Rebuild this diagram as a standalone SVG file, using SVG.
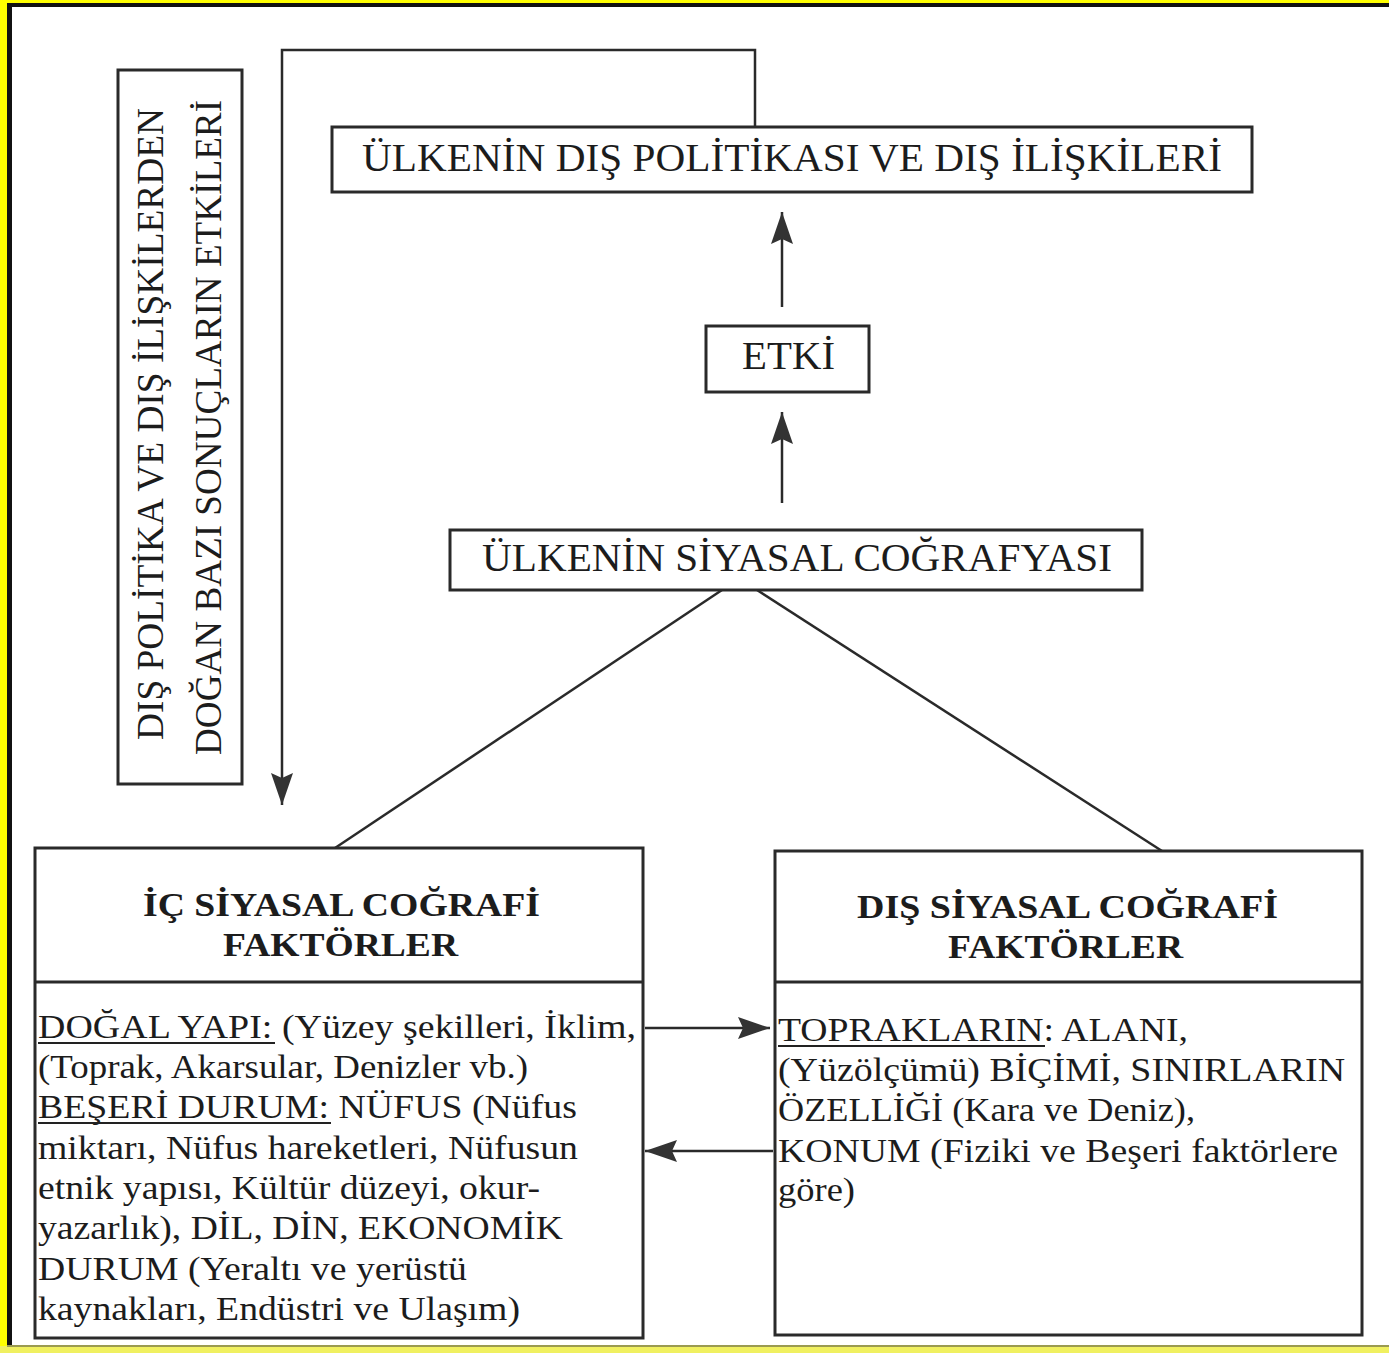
<svg xmlns="http://www.w3.org/2000/svg" width="1389" height="1353" viewBox="0 0 1389 1353">
<defs>
<style>
.box{fill:none;stroke:#2a2a2a;stroke-width:3}
.ln{fill:none;stroke:#2a2a2a;stroke-width:2.5}
.t{font-family:"Liberation Serif","Times New Roman",serif;fill:#1c1c1c}
.h{font-family:"Liberation Serif","Times New Roman",serif;fill:#1c1c1c;font-weight:bold}
.b{font-family:"Liberation Serif","Times New Roman",serif;fill:#1c1c1c;font-size:34px}
.ul{stroke:#222;stroke-width:2}
</style>
<marker id="ah" viewBox="0 0 32 22" refX="32" refY="11" markerWidth="32" markerHeight="22" markerUnits="userSpaceOnUse" orient="auto">
<path d="M0,0 L32,11 L0,22 L5,11 Z" fill="#333"/>
</marker>
</defs>
<rect x="0" y="0" width="1389" height="1353" fill="#ffffff"/>
<rect x="0" y="0" width="1389" height="3" fill="#ffff00"/>
<rect x="0" y="0" width="7" height="1353" fill="#ffff00"/>
<rect x="7" y="3" width="1382" height="4" fill="#111"/>
<rect x="7" y="3" width="5" height="1343" fill="#111"/>
<rect x="0" y="1346" width="1389" height="7" fill="#f0f060"/>
<rect x="7" y="1345" width="1382" height="2" fill="#9a9a50"/>

<g id="connectors">
<polyline class="ln" points="755,127 755,50 282,50 282,805" marker-end="url(#ah)"/>
<line class="ln" x1="782" y1="307" x2="782" y2="212" marker-end="url(#ah)"/>
<line class="ln" x1="782" y1="503" x2="782" y2="412" marker-end="url(#ah)"/>
<line class="ln" x1="722" y1="590" x2="335" y2="848"/>
<line class="ln" x1="757" y1="590" x2="1162" y2="851"/>
<line class="ln" x1="645" y1="1028" x2="770" y2="1028" marker-end="url(#ah)"/>
<line class="ln" x1="773" y1="1151" x2="645" y2="1151" marker-end="url(#ah)"/>
</g>

<g id="node-sonuclar">
<rect class="box" x="118" y="70" width="124" height="714"/>
<text class="t" font-size="37" transform="translate(163,740) rotate(-90)" textLength="632" lengthAdjust="spacingAndGlyphs">DIŞ POLİTİKA VE DIŞ İLİŞKİLERDEN</text>
<text class="t" font-size="37" transform="translate(221,755) rotate(-90)" textLength="655" lengthAdjust="spacingAndGlyphs">DOĞAN BAZI SONUÇLARIN ETKİLERİ</text>
</g>

<g id="node-dis-politika">
<rect class="box" x="332" y="127" width="920" height="65"/>
<text class="t" font-size="39" x="362" y="171" textLength="860" lengthAdjust="spacingAndGlyphs">ÜLKENİN DIŞ POLİTİKASI VE DIŞ İLİŞKİLERİ</text>
</g>

<g id="node-etki">
<rect class="box" x="706" y="326" width="163" height="66"/>
<text class="t" font-size="39" x="742" y="369" textLength="93" lengthAdjust="spacingAndGlyphs">ETKİ</text>
</g>

<g id="node-siyasal-cografya">
<rect class="box" x="450" y="530" width="692" height="60"/>
<text class="t" font-size="41" x="482" y="571" textLength="630" lengthAdjust="spacingAndGlyphs">ÜLKENİN SİYASAL COĞRAFYASI</text>
</g>

<g id="node-ic">
<rect class="box" x="35" y="848" width="608" height="490"/>
<line class="box" x1="35" y1="982" x2="643" y2="982"/>
<text class="h" font-size="33" x="143" y="916" textLength="397" lengthAdjust="spacingAndGlyphs">İÇ SİYASAL COĞRAFİ</text>
<text class="h" font-size="33" x="223" y="956" textLength="235" lengthAdjust="spacingAndGlyphs">FAKTÖRLER</text>
<text class="b" x="38" y="1038" textLength="598" lengthAdjust="spacingAndGlyphs">DOĞAL YAPI: (Yüzey şekilleri, İklim,</text>
<line class="ul" x1="38" y1="1043" x2="275" y2="1043"/>
<text class="b" x="38" y="1078" textLength="490" lengthAdjust="spacingAndGlyphs">(Toprak, Akarsular, Denizler vb.)</text>
<text class="b" x="38" y="1118" textLength="539" lengthAdjust="spacingAndGlyphs">BEŞERİ DURUM: NÜFUS (Nüfus</text>
<line class="ul" x1="38" y1="1123" x2="331" y2="1123"/>
<text class="b" x="38" y="1159" textLength="540" lengthAdjust="spacingAndGlyphs">miktarı, Nüfus hareketleri, Nüfusun</text>
<text class="b" x="38" y="1199" textLength="502" lengthAdjust="spacingAndGlyphs">etnik yapısı, Kültür düzeyi, okur-</text>
<text class="b" x="38" y="1239" textLength="525" lengthAdjust="spacingAndGlyphs">yazarlık), DİL, DİN, EKONOMİK</text>
<text class="b" x="38" y="1280" textLength="429" lengthAdjust="spacingAndGlyphs">DURUM (Yeraltı ve yerüstü</text>
<text class="b" x="38" y="1320" textLength="482" lengthAdjust="spacingAndGlyphs">kaynakları, Endüstri ve Ulaşım)</text>
</g>

<g id="node-dis">
<rect class="box" x="775" y="851" width="587" height="484"/>
<line class="box" x1="775" y1="982" x2="1362" y2="982"/>
<text class="h" font-size="33" x="857" y="918" textLength="421" lengthAdjust="spacingAndGlyphs">DIŞ SİYASAL COĞRAFİ</text>
<text class="h" font-size="33" x="948" y="958" textLength="235" lengthAdjust="spacingAndGlyphs">FAKTÖRLER</text>
<text class="b" x="778" y="1041" textLength="410" lengthAdjust="spacingAndGlyphs">TOPRAKLARIN: ALANI,</text>
<line class="ul" x1="778" y1="1046" x2="1045" y2="1046"/>
<text class="b" x="778" y="1081" textLength="567" lengthAdjust="spacingAndGlyphs">(Yüzölçümü) BİÇİMİ, SINIRLARIN</text>
<text class="b" x="778" y="1121" textLength="417" lengthAdjust="spacingAndGlyphs">ÖZELLİĞİ (Kara ve Deniz),</text>
<text class="b" x="778" y="1162" textLength="560" lengthAdjust="spacingAndGlyphs">KONUM (Fiziki ve Beşeri faktörlere</text>
<text class="b" x="778" y="1201" textLength="77" lengthAdjust="spacingAndGlyphs">göre)</text>
</g>
</svg>
